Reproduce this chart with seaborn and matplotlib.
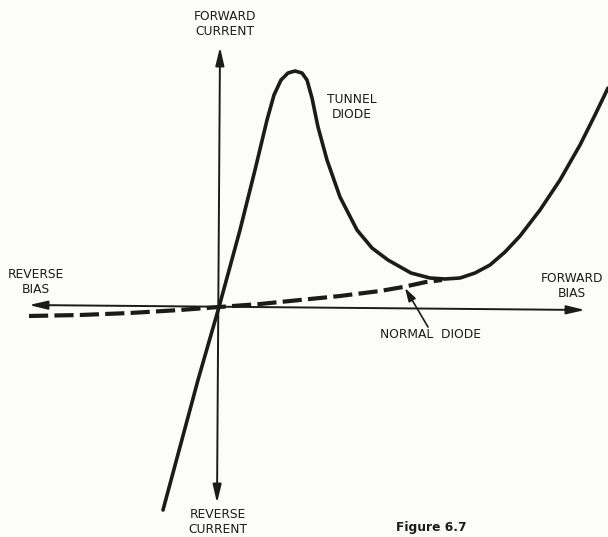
import matplotlib
matplotlib.use("Agg")
import matplotlib.pyplot as plt
import seaborn as sns
import pandas as pd

# Tunnel diode characteristic (bias, current) in drawing units
tunnel_bias = [-56, -21, 0, 21, 36, 48, 55, 62, 69, 76, 83, 88, 93, 99, 108, 121,
               138, 153, 169, 192, 211, 226, 241, 256, 271, 286, 301, 321, 341,
               361, 376, 389]
tunnel_current = [-203, -73, 0, 77, 137, 187, 212, 227, 234, 236, 234, 227, 209,
                  180, 147, 110, 77, 59, 47, 34, 29, 28, 29, 34, 42, 55, 71, 97,
                  127, 162, 192, 219]

# Ordinary junction diode characteristic
normal_bias = [-190, -139, -89, -39, 0, 41, 81, 121, 161, 184, 207, 223]
normal_current = [-9, -8, -6, -3, 0, 3, 7, 11, 16, 20, 25, 27]

tunnel = pd.DataFrame({"bias": tunnel_bias, "current": tunnel_current})
normal = pd.DataFrame({"bias": normal_bias, "current": normal_current})

sns.set_style("white")
plt.rcParams["font.family"] = ["DejaVu Sans"]

INK = "#1b1b1b"
PAPER = "#fcfcfa"

fig = plt.figure(figsize=(6.08, 5.37), dpi=100, facecolor=PAPER)
ax = fig.add_axes([0, 0, 1, 1], facecolor=PAPER)
ax.set_xlim(-219, 389)
ax.set_ylim(-230, 307)
ax.axis("off")


def P(x, y):
    """Sheet position (pixels from top-left) to drawing units."""
    return (x - 219, 307 - y)


# Axes with arrowheads at both ends
axis_arrow = dict(arrowstyle="<|-|>,head_length=0.55,head_width=0.13",
                  color=INK, lw=1.4, mutation_scale=20, shrinkA=0, shrinkB=0)
ax.annotate("", xy=P(29, 305), xytext=P(585, 310), arrowprops=axis_arrow)
ax.annotate("", xy=P(220, 47), xytext=P(217, 503), arrowprops=axis_arrow)

# Curves
sns.lineplot(data=normal, x="bias", y="current", ax=ax, sort=False,
             estimator=None, color=INK, lw=3.0)
ax.lines[-1].set_dashes([4.6, 1.5])
sns.lineplot(data=tunnel, x="bias", y="current", ax=ax, sort=False,
             estimator=None, color=INK, lw=2.6)
ax.lines[-1].set_solid_joinstyle("round")

# Pointer to the normal diode curve
ax.annotate("", xy=P(405, 288), xytext=P(428, 327),
            arrowprops=dict(arrowstyle="-|>,head_length=0.5,head_width=0.15",
                            color=INK, lw=1.2, mutation_scale=16,
                            shrinkA=0, shrinkB=0))

label_kw = dict(fontsize=8.8, color=INK, ha="center", va="center",
                linespacing=1.25)
ax.text(*P(225, 24), "FORWARD\nCURRENT", **label_kw)
ax.text(*P(352, 107), "TUNNEL\nDIODE", **label_kw)
ax.text(*P(36, 282), "REVERSE\nBIAS", **label_kw)
ax.text(*P(572, 286), "FORWARD\nBIAS", **label_kw)
ax.text(*P(431, 335), "NORMAL  DIODE", **label_kw)
ax.text(*P(218, 522), "REVERSE\nCURRENT", **label_kw)
ax.text(*P(467, 527), "Figure 6.7", fontsize=8.8, color=INK, ha="right",
        va="center", fontweight="bold")

fig.savefig("out.png", dpi=100, facecolor=PAPER)
